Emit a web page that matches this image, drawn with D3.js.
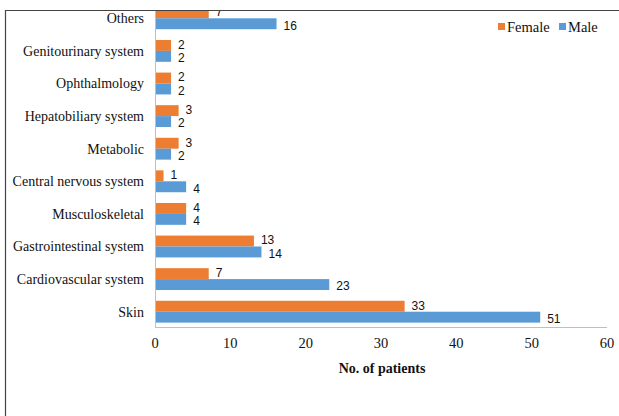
<!DOCTYPE html>
<html>
<head>
<meta charset="utf-8">
<script src="https://cdn.jsdelivr.net/npm/d3@7"></script>
<style>
  body { margin: 0; background: #fff; }
  svg { display: block; }
</style>
</head>
<body>
<svg id="chart"></svg>
<script>
const categories = ["Skin", "Cardiovascular system", "Gastrointestinal system", "Musculoskeletal",
  "Central nervous system", "Metabolic", "Hepatobiliary system", "Ophthalmology",
  "Genitourinary system", "Others"];
const female = [33, 7, 13, 4, 1, 3, 3, 2, 2, 7];
const male = [51, 23, 14, 4, 4, 2, 2, 2, 2, 16];
const seriesNames = ["Female", "Male"];
const xTicks = [0, 10, 20, 30, 40, 50, 60];

const colors = { Female: "#ED7D31", Male: "#5B9BD5" };
const serif = "'Liberation Serif', 'Times New Roman', serif";
const sans = "'Liberation Sans', Arial, sans-serif";
const ink = "#111";

const width = 619, height = 416;
const svg = d3.select("#chart").attr("width", width).attr("height", height);

const rows = categories.map((c, i) => ({ cat: c, Female: female[i], Male: male[i] }));

const x = d3.scaleLinear().domain([0, 60]).range([155, 607]);
const y = d3.scaleBand()
  .domain(categories)
  .range([328, 2])
  .paddingInner(0.33)
  .paddingOuter(0.165);
const ySub = d3.scaleBand().domain(seriesNames).range([0, y.bandwidth()]);

svg.append("defs").append("clipPath").attr("id", "frame")
  .append("rect").attr("x", 5).attr("y", 10.5).attr("width", width).attr("height", height);

const g = svg.append("g").attr("clip-path", "url(#frame)");

// axes
g.append("line")
  .attr("x1", x(0)).attr("x2", x(60))
  .attr("y1", 327.5).attr("y2", 327.5)
  .attr("stroke", "#bfbfbf");
g.append("line")
  .attr("x1", x(0) + 0.5).attr("x2", x(0) + 0.5)
  .attr("y1", 0).attr("y2", 327.5)
  .attr("stroke", "#bfbfbf");

g.selectAll(".tick-label")
  .data(xTicks)
  .enter().append("text")
  .attr("x", d => x(d))
  .attr("y", 348)
  .attr("text-anchor", "middle")
  .attr("font-family", serif)
  .attr("font-size", 14.5)
  .attr("fill", ink)
  .text(d => d);

g.selectAll(".cat-label")
  .data(categories)
  .enter().append("text")
  .attr("x", 144)
  .attr("y", d => y(d) + y.bandwidth() / 2)
  .attr("dy", "0.35em")
  .attr("text-anchor", "end")
  .attr("font-family", serif)
  .attr("font-size", 14)
  .attr("fill", ink)
  .text(d => d);

const groups = g.selectAll(".grp")
  .data(rows)
  .enter().append("g")
  .attr("transform", d => `translate(0,${y(d.cat)})`);

groups.selectAll("rect")
  .data(d => seriesNames.map(k => ({ key: k, value: d[k] })))
  .enter().append("rect")
  .attr("x", x(0) + 1)
  .attr("y", d => ySub(d.key))
  .attr("width", d => x(d.value) - x(0))
  .attr("height", ySub.bandwidth())
  .attr("fill", d => colors[d.key]);

groups.selectAll("text")
  .data(d => seriesNames.map(k => ({ key: k, value: d[k] })))
  .enter().append("text")
  .attr("x", d => x(d.value) + 8)
  .attr("y", d => ySub(d.key) + ySub.bandwidth() / 2)
  .attr("dy", d => d.key === "Female" ? "0.28em" : "0.48em")
  .attr("font-family", sans)
  .attr("font-size", 12)
  .attr("fill", ink)
  .text(d => d.value);

// axis title
svg.append("text")
  .attr("x", 382)
  .attr("y", 373)
  .attr("text-anchor", "middle")
  .attr("font-family", serif)
  .attr("font-size", 14)
  .attr("font-weight", "bold")
  .attr("fill", ink)
  .text("No. of patients");

// legend
const legendX = { Female: 498, Male: 559 };
const legend = svg.selectAll(".legend")
  .data(seriesNames)
  .enter().append("g")
  .attr("transform", d => `translate(${legendX[d]},23)`);
legend.append("rect")
  .attr("width", 7).attr("height", 7)
  .attr("fill", d => colors[d]);
legend.append("text")
  .attr("x", 9).attr("y", 4)
  .attr("dy", "0.35em")
  .attr("font-family", serif)
  .attr("font-size", 14.5)
  .attr("fill", ink)
  .text(d => d);

// frame
svg.append("path")
  .attr("d", `M${width},10.5H5.5V${height}`)
  .attr("fill", "none")
  .attr("stroke", "#444")
  .attr("stroke-width", 1.2);
</script>
</body>
</html>
